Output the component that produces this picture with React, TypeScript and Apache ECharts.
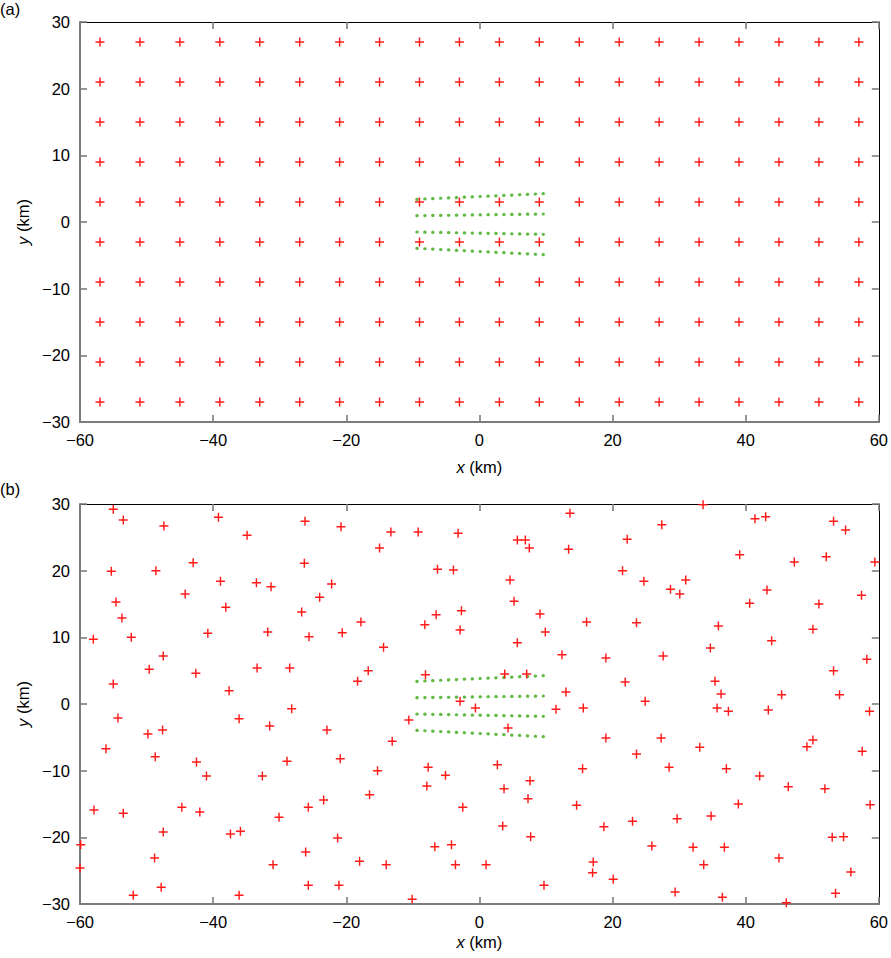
import React, { useEffect, useRef } from "react";
import * as echarts from "echarts";

// Panel (a): regular grid of stations
const gridXs = [-57, -51, -45, -39, -33, -27, -21, -15, -9, -3, 3, 9, 15, 21, 27, 33, 39, 45, 51, 57];
const gridYs = [27, 21, 15, 9, 3, -3, -9, -15, -21, -27];

// Fault traces (dotted green), [start, end]
const fault1 = [[-9.4, 3.4], [9.6, 4.25]];
const fault2 = [[-9.4, 0.95], [9.6, 1.2]];
const fault3 = [[-9.4, -1.5], [9.6, -1.85]];
const fault4 = [[-9.4, -3.95], [9.6, -4.9]];
const faults = [fault1, fault2, fault3, fault4];

// Panel (b): irregular stations
const randomStationsNW = [
  [-55.0, 29.2], [-53.5, 27.6], [-47.4, 26.7], [-39.2, 28.0], [-34.9, 25.3], [-55.3, 19.9], [-48.6, 20.0],
  [-43.0, 21.2], [-38.9, 18.4], [-33.5, 18.2], [-31.3, 17.6], [-44.2, 16.5], [-54.6, 15.3], [-38.1, 14.5],
  [-53.7, 12.9], [-58.0, 9.7], [-52.3, 10.0], [-40.8, 10.6], [-31.8, 10.8], [-47.5, 7.2], [-49.6, 5.2],
  [-42.6, 4.6], [-33.4, 5.4], [-55.0, 3.0], [-37.6, 2.0],
  [-26.2, 27.4], [-20.8, 26.6], [-13.3, 25.8], [-9.2, 25.8], [-3.2, 25.6], [-15.0, 23.4], [-26.3, 21.1],
  [-6.3, 20.2], [-3.9, 20.1], [-22.2, 18.0], [-24.0, 16.0], [-26.7, 13.8], [-6.5, 13.4], [-2.7, 14.0],
  [-17.8, 12.3], [-8.2, 11.9], [-2.9, 11.1], [-25.6, 10.1], [-20.6, 10.7], [-14.4, 8.5], [-28.5, 5.4],
  [-16.7, 5.0], [-18.3, 3.4], [-8.1, 4.4], [-2.9, 0.4],
];
const randomStationsNE = [
  [13.6, 28.6], [27.4, 26.9], [5.7, 24.6], [6.9, 24.6], [7.5, 23.4], [13.4, 23.2], [22.2, 24.7], [21.5, 20.0],
  [4.6, 18.6], [24.7, 18.4], [28.7, 17.2], [30.1, 16.5], [31.0, 18.6], [5.2, 15.4], [9.1, 13.5], [16.1, 12.3],
  [23.6, 12.2], [9.9, 10.8], [5.7, 9.2], [12.4, 7.4], [19.0, 6.9], [27.6, 7.2], [3.8, 4.5], [7.1, 4.5],
  [21.9, 3.3], [13.0, 1.8], [24.9, 0.4],
  [33.6, 29.9], [41.4, 27.8], [43.0, 28.1], [53.2, 27.4], [55.0, 26.1], [39.1, 22.4], [47.3, 21.3],
  [52.1, 22.1], [59.4, 21.3], [43.2, 17.1], [40.6, 15.1], [51.0, 15.0], [57.4, 16.3], [35.9, 11.7],
  [43.9, 9.5], [50.1, 11.2], [34.7, 8.4], [58.2, 6.7], [53.2, 5.0], [35.4, 3.4], [36.3, 1.5], [45.4, 1.4],
  [54.1, 1.4],
];
const randomStationsSW = [
  [-54.3, -2.1], [-49.8, -4.5], [-47.6, -3.9], [-36.1, -2.2], [-31.5, -3.3], [-56.1, -6.7], [-48.7, -7.9],
  [-42.5, -8.7], [-41.0, -10.8], [-32.6, -10.8], [-57.9, -15.9], [-53.5, -16.4], [-44.7, -15.5], [-42.0, -16.2],
  [-30.1, -17.0], [-47.5, -19.2], [-37.4, -19.5], [-35.9, -19.1], [-59.9, -21.1], [-48.8, -23.1], [-60.0, -24.6],
  [-31.0, -24.1], [-47.8, -27.5], [-52.0, -28.7], [-36.1, -28.7],
  [-0.6, -0.6], [-28.2, -0.7], [-10.6, -2.4], [-22.9, -3.9], [-13.1, -5.6], [-28.9, -8.6], [-20.9, -8.2],
  [-15.3, -10.0], [-7.7, -9.5], [-5.1, -10.7], [-7.9, -12.3], [-16.5, -13.6], [-23.4, -14.4], [-25.7, -15.5],
  [-2.5, -15.5], [-21.3, -20.1], [-26.1, -22.2], [-6.7, -21.4], [-4.2, -21.1], [-18.0, -23.6], [-14.0, -24.1],
  [-3.6, -24.1], [-25.7, -27.2], [-21.1, -27.2], [-10.1, -29.3],
];
const randomStationsSE = [
  [11.5, -0.8], [15.6, -0.6], [4.3, -3.6], [19.0, -5.1], [27.3, -5.1], [23.6, -7.5], [2.7, -9.1], [15.5, -9.7],
  [28.5, -9.5], [7.6, -11.5], [3.7, -12.7], [7.3, -14.2], [14.6, -15.2], [3.5, -18.3], [7.7, -19.9],
  [18.7, -18.4], [23.0, -17.6], [29.7, -17.2], [25.9, -21.3], [1.0, -24.1], [17.1, -23.7], [17.0, -25.3],
  [20.1, -26.3], [9.7, -27.2], [29.4, -28.2],
  [35.7, -0.6], [37.4, -1.1], [43.4, -0.9], [58.6, -1.1], [33.1, -6.5], [49.2, -6.4], [50.1, -5.4],
  [57.5, -7.1], [37.1, -9.7], [42.1, -10.8], [46.4, -12.4], [51.9, -12.7], [38.9, -15.0], [58.7, -15.1],
  [34.8, -16.8], [32.1, -21.5], [36.8, -21.5], [53.0, -20.0], [54.7, -19.9], [33.7, -24.1], [45.0, -23.1],
  [55.8, -25.2], [36.5, -29.0], [46.1, -29.8], [53.5, -28.4],
];

const panelLabels = ["(a)", "(b)"];

const FONT = "'Liberation Sans', Arial, Helvetica, sans-serif";
const FS = 16.5;
const GRAY = "#7c7c7c";
const CROSS = "path://M-1.6,-10H1.6V-1.6H10V1.6H1.6V10H-1.6V1.6H-10V-1.6H-1.6Z";
const GREEN = "#62b946";

const minus = (v: number) => String(v).replace("-", "\u2212");

function makeAxes(gridIndex: number, xNameGap: number) {
  const labelStyle = { color: "#000", fontSize: FS, fontFamily: FONT };
  const xBottom = {
    type: "value", gridIndex, position: "bottom", min: -60, max: 60, interval: 20,
    axisLine: { onZero: false, lineStyle: { color: GRAY, width: 2 } },
    axisTick: { inside: true, length: 7, lineStyle: { color: GRAY, width: 1.6 } },
    axisLabel: { ...labelStyle, margin: 9, formatter: minus },
    splitLine: { show: false },
    name: "{i|x} (km)", nameLocation: "middle", nameGap: xNameGap,
    nameTextStyle: { ...labelStyle, rich: { i: { fontStyle: "italic", fontSize: FS, fontFamily: FONT, color: "#000" } } },
  };
  const xTop = {
    type: "value", gridIndex, position: "top", min: -60, max: 60, interval: 20,
    axisLine: { onZero: false, lineStyle: { color: "#000", width: 1 } },
    axisTick: { inside: true, length: 7, lineStyle: { color: GRAY, width: 1.6 } },
    axisLabel: { show: false }, splitLine: { show: false },
  };
  const yLeft = {
    type: "value", gridIndex, position: "left", min: -30, max: 30, interval: 10,
    axisLine: { onZero: false, lineStyle: { color: GRAY, width: 2 } },
    axisTick: { inside: true, length: 7, lineStyle: { color: GRAY, width: 1.6 } },
    axisLabel: { ...labelStyle, margin: 10, formatter: minus },
    splitLine: { show: false },
    name: "{i|y} (km)", nameLocation: "middle", nameGap: 39,
    nameTextStyle: { ...labelStyle, rich: { i: { fontStyle: "italic", fontSize: FS, fontFamily: FONT, color: "#000" } } },
  };
  const yRight = {
    type: "value", gridIndex, position: "right", min: -30, max: 30, interval: 10,
    axisLine: { onZero: false, lineStyle: { color: "#000", width: 1 } },
    axisTick: { inside: true, length: 7, lineStyle: { color: GRAY, width: 1.6 } },
    axisLabel: { show: false }, splitLine: { show: false },
  };
  return { x: [xBottom, xTop], y: [yLeft, yRight] };
}

export default function App() {
  const ref = useRef<HTMLDivElement>(null);
  useEffect(() => {
    if (!ref.current) return;
    const chart = echarts.init(ref.current, undefined, { renderer: "svg" });
    const a = makeAxes(0, 36);
    const b = makeAxes(1, 29);
    const gridPoints: number[][] = [];
    gridYs.forEach((y) => gridXs.forEach((x) => gridPoints.push([x, y])));
    const randomPoints = [...randomStationsNW, ...randomStationsNE, ...randomStationsSW, ...randomStationsSE];

    const faultSeries = (xi: number, yi: number) =>
      faults.map((f) => ({
        type: "line", xAxisIndex: xi, yAxisIndex: yi, data: f, symbol: "none", silent: true,
        lineStyle: { color: GREEN, width: 3.2, type: [0.4, 7.5], cap: "round" }, z: 3,
      }));
    const stationSeries = (xi: number, yi: number, data: number[][]) => ({
      type: "scatter", xAxisIndex: xi, yAxisIndex: yi, data, symbol: CROSS, symbolSize: 9,
      itemStyle: { color: "#ff1a1a", opacity: 1 }, z: 4,
    });

    chart.setOption({
      animation: false,
      backgroundColor: "#fff",
      grid: [
        { left: 80, top: 22, width: 800, height: 400 },
        { left: 80, top: 504, width: 800, height: 400 },
      ],
      xAxis: [...a.x, ...b.x],
      yAxis: [...a.y, ...b.y],
      graphic: [
        { type: "text", left: 0, top: 0, style: { text: panelLabels[0], font: `${FS}px ${FONT}`, fill: "#000" } },
        { type: "text", left: 0, top: 480, style: { text: panelLabels[1], font: `${FS}px ${FONT}`, fill: "#000" } },
      ],
      series: [
        ...faultSeries(0, 0),
        stationSeries(0, 0, gridPoints),
        ...faultSeries(2, 2),
        stationSeries(2, 2, randomPoints),
      ],
    });
    return () => chart.dispose();
  }, []);
  return (
    <div
      ref={ref}
      style={{ position: "absolute", left: 0, top: 0, width: 891, height: 958, background: "#fff" }}
    />
  );
}
